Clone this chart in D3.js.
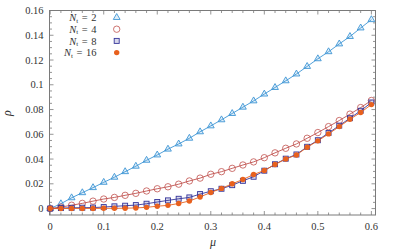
<!DOCTYPE html>
<html>
<head>
<meta charset="utf-8">
<script src="https://cdn.jsdelivr.net/npm/d3@7"></script>
<style>
  body { margin: 0; background: #fff; }
</style>
</head>
<body>
<div id="chart"></div>
<script>
// mu values, 0 to 0.6 in steps of 0.02
var mu = [0, 0.02, 0.04, 0.06, 0.08, 0.10, 0.12, 0.14, 0.16, 0.18, 0.20,
          0.22, 0.24, 0.26, 0.28, 0.30, 0.32, 0.34, 0.36, 0.38, 0.40,
          0.42, 0.44, 0.46, 0.48, 0.50, 0.52, 0.54, 0.56, 0.58, 0.60];

// rho for each N_t
var rhoN2 = [0, 0.0039, 0.0087, 0.0128, 0.0169, 0.0212, 0.0253, 0.0298, 0.0342, 0.0390, 0.0433,
             0.0480, 0.0522, 0.0568, 0.0620, 0.0668, 0.0717, 0.0768, 0.0819, 0.0870, 0.0925,
             0.0978, 0.1032, 0.1087, 0.1148, 0.1210, 0.1267, 0.1330, 0.1390, 0.1459, 0.1526];
var rhoN4 = [0, 0.0012, 0.0027, 0.0042, 0.0060, 0.0077, 0.0090, 0.0107, 0.0123, 0.0142, 0.0160,
             0.0176, 0.0197, 0.0223, 0.0246, 0.0277, 0.0298, 0.0325, 0.0352, 0.0377, 0.0411,
             0.0450, 0.0487, 0.0522, 0.0568, 0.0614, 0.0662, 0.0711, 0.0763, 0.0816, 0.0873];
var rhoN8 = [0, 0.0004, 0.0006, 0.0007, 0.0008, 0.0012, 0.0018, 0.0023, 0.0028, 0.0039, 0.0053,
             0.0066, 0.0079, 0.0090, 0.0117, 0.0140, 0.0160, 0.0189, 0.0224, 0.0257, 0.0306,
             0.0358, 0.0403, 0.0437, 0.0499, 0.0552, 0.0611, 0.0670, 0.0730, 0.0790, 0.0857];
var rhoN16 = [0, 0.0000, 0.0001, 0.0001, 0.0001, 0.0002, 0.0002, 0.0003, 0.0005, 0.0010, 0.0019,
              0.0026, 0.0041, 0.0061, 0.0094, 0.0130, 0.0163, 0.0200, 0.0235, 0.0275, 0.0308,
              0.0356, 0.0400, 0.0433, 0.0495, 0.0547, 0.0603, 0.0662, 0.0722, 0.0776, 0.0840];

var seriesNames = ["2", "4", "8", "16"];
var xTicks = [0, 0.1, 0.2, 0.3, 0.4, 0.5, 0.6];
var yTicks = [0, 0.02, 0.04, 0.06, 0.08, 0.1, 0.12, 0.14, 0.16];

var series = [
  {name: seriesNames[0], values: rhoN2, color: "#3d95d5", fill: "rgba(61,149,213,0.15)", marker: "triangle"},
  {name: seriesNames[1], values: rhoN4, color: "#c0504d", fill: "none", marker: "circle"},
  {name: seriesNames[2], values: rhoN8, color: "#35359a", fill: "rgba(53,53,154,0.2)", marker: "square"},
  {name: seriesNames[3], values: rhoN16, color: "#e8611e", fill: "#e8611e", marker: "dot"}
];

var W = 399, H = 251;
var svg = d3.select("#chart").append("svg")
    .attr("width", W)
    .attr("height", H)
    .attr("font-family", "'Liberation Serif', 'DejaVu Serif', serif");

var x = d3.scaleLinear().domain([-0.0013, 0.6077]).range([49.5, 375.5]);
var y = d3.scaleLinear().domain([-0.0052, 0.16]).range([215, 10.5]);

var frameColor = "#7a7a7a";
var textColor = "#333";

// minor ticks, inward on all four sides
var xMinor = d3.range(0, 0.601, 0.02);
var yMinor = d3.range(0, 0.1601, 0.005);
var ticks = svg.append("g").attr("stroke", frameColor).attr("stroke-width", 0.8);
xMinor.forEach(function(v) {
  var major = Math.abs(v * 10 - Math.round(v * 10)) < 1e-6;
  var len = major ? 4 : 2.5;
  ticks.append("line").attr("x1", x(v)).attr("x2", x(v)).attr("y1", 215).attr("y2", 215 - len);
  ticks.append("line").attr("x1", x(v)).attr("x2", x(v)).attr("y1", 10.5).attr("y2", 10.5 + len);
});
yMinor.forEach(function(v) {
  var major = Math.abs(v * 50 - Math.round(v * 50)) < 1e-6;
  var len = major ? 4 : 2.5;
  ticks.append("line").attr("y1", y(v)).attr("y2", y(v)).attr("x1", 49.5).attr("x2", 49.5 + len);
  ticks.append("line").attr("y1", y(v)).attr("y2", y(v)).attr("x1", 375.5).attr("x2", 375.5 - len);
});

// frame
svg.append("rect")
    .attr("x", 49.5).attr("y", 10.5)
    .attr("width", 326).attr("height", 204.5)
    .attr("fill", "none")
    .attr("stroke", frameColor)
    .attr("stroke-width", 1);

// tick labels
svg.append("g").selectAll("text")
    .data(xTicks)
  .enter().append("text")
    .attr("x", function(d) { return x(d); })
    .attr("y", 229.5)
    .attr("text-anchor", "middle")
    .attr("font-size", "10.5px")
    .attr("fill", textColor)
    .text(function(d) { return d3.format("")(d); });

svg.append("g").selectAll("text")
    .data(yTicks)
  .enter().append("text")
    .attr("x", 43.5)
    .attr("y", function(d) { return y(d) + 3.5; })
    .attr("text-anchor", "end")
    .attr("font-size", "10.5px")
    .attr("fill", textColor)
    .text(function(d) { return d3.format("")(d); });

// axis labels
svg.append("text")
    .attr("x", 213).attr("y", 246)
    .attr("text-anchor", "middle")
    .attr("font-size", "12px")
    .attr("font-style", "italic")
    .attr("fill", textColor)
    .text("μ");

svg.append("text")
    .attr("transform", "translate(11, 113) rotate(-90)")
    .attr("text-anchor", "middle")
    .attr("font-size", "12px")
    .attr("font-style", "italic")
    .attr("fill", textColor)
    .text("ρ");

var line = d3.line()
    .x(function(d, i) { return x(mu[i]); })
    .y(function(d) { return y(d); });

function drawMarker(g, s, px, py) {
  if (s.marker == "triangle") {
    g.append("path")
        .attr("d", d3.symbol().type(d3.symbolTriangle).size(20)())
        .attr("transform", "translate(" + px + "," + py + ")")
        .attr("fill", s.fill)
        .attr("stroke", s.color).attr("stroke-width", 0.9);
  } else if (s.marker == "circle") {
    g.append("circle").attr("cx", px).attr("cy", py).attr("r", 3.2)
        .attr("fill", "#fff").attr("fill-opacity", 0)
        .attr("stroke", s.color).attr("stroke-width", 0.8);
  } else if (s.marker == "square") {
    g.append("rect").attr("x", px - 2.5).attr("y", py - 2.5)
        .attr("width", 5).attr("height", 5)
        .attr("fill", s.fill)
        .attr("stroke", s.color).attr("stroke-width", 0.9);
  } else {
    g.append("circle").attr("cx", px).attr("cy", py).attr("r", 2.7)
        .attr("fill", s.fill);
  }
}

series.forEach(function(s) {
  var g = svg.append("g");
  g.append("path")
      .datum(s.values)
      .attr("d", line)
      .attr("fill", "none")
      .attr("stroke", s.color)
      .attr("stroke-width", 0.9);
  s.values.forEach(function(v, i) {
    drawMarker(g, s, x(mu[i]), y(v));
  });
});

// legend
var legend = svg.append("g");
series.forEach(function(s, i) {
  var ly = 17.5 + i * 11.7;
  var t = legend.append("text")
      .attr("x", 96.5).attr("y", ly + 3.6)
      .attr("text-anchor", "end")
      .attr("font-size", "10.5px")
      .attr("fill", textColor);
  t.append("tspan").attr("font-style", "italic").text("N");
  t.append("tspan").attr("font-size", "7px").attr("dy", 1.5).text("t");
  t.append("tspan").attr("dy", -1.5).text("\u2004=\u2004" + s.name);
  drawMarker(legend, s, 116.7, ly);
});
</script>
</body>
</html>
